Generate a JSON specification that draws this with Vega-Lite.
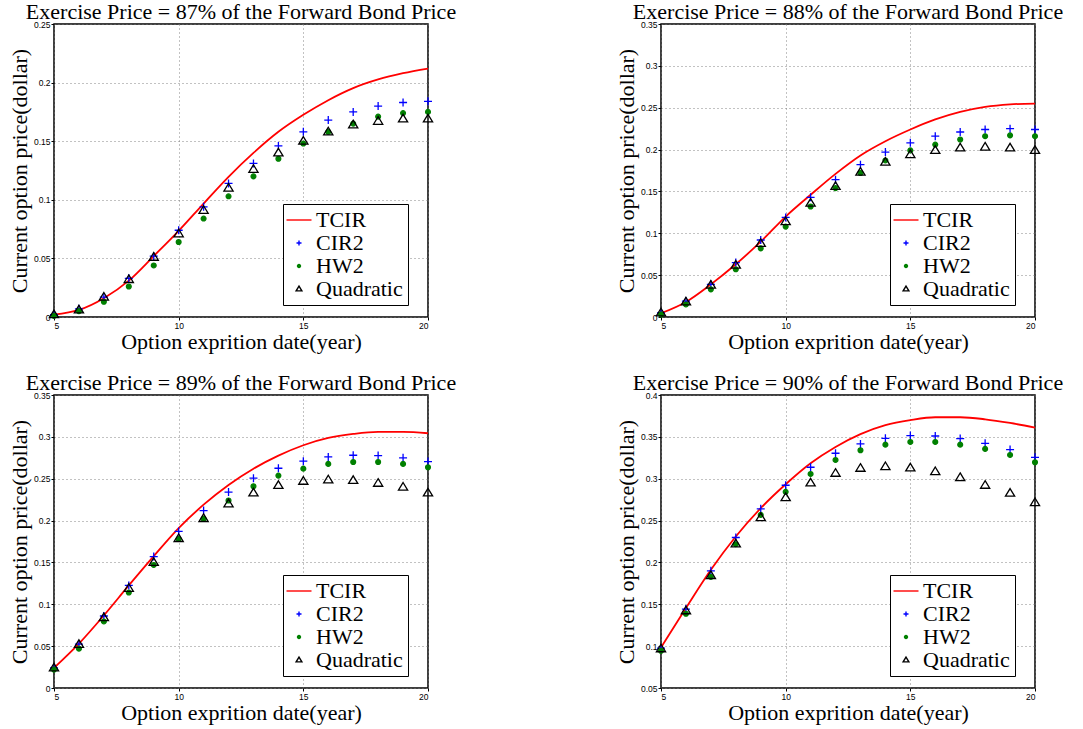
{
  "$schema": "https://vega.github.io/schema/vega-lite/v6.json",
  "padding": {"left": 7, "top": 0, "right": 0, "bottom": 0},
  "background": "white",
  "datasets": {
    "rows": [
      {"panel": "87", "year": 5, "TCIR": 0.002, "CIR2": 0.002, "HW2": 0.001, "Quadratic": 0.002},
      {"panel": "87", "year": 6, "TCIR": 0.006, "CIR2": 0.007, "HW2": 0.005, "Quadratic": 0.006},
      {"panel": "87", "year": 7, "TCIR": 0.016, "CIR2": 0.017, "HW2": 0.013, "Quadratic": 0.017},
      {"panel": "87", "year": 8, "TCIR": 0.031, "CIR2": 0.033, "HW2": 0.026, "Quadratic": 0.032},
      {"panel": "87", "year": 9, "TCIR": 0.052, "CIR2": 0.052, "HW2": 0.044, "Quadratic": 0.051},
      {"panel": "87", "year": 10, "TCIR": 0.0735, "CIR2": 0.074, "HW2": 0.064, "Quadratic": 0.071},
      {"panel": "87", "year": 11, "TCIR": 0.0968, "CIR2": 0.094, "HW2": 0.084, "Quadratic": 0.091},
      {"panel": "87", "year": 12, "TCIR": 0.1196, "CIR2": 0.114, "HW2": 0.103, "Quadratic": 0.110},
      {"panel": "87", "year": 13, "TCIR": 0.140, "CIR2": 0.131, "HW2": 0.120, "Quadratic": 0.126},
      {"panel": "87", "year": 14, "TCIR": 0.158, "CIR2": 0.146, "HW2": 0.135, "Quadratic": 0.140},
      {"panel": "87", "year": 15, "TCIR": 0.1725, "CIR2": 0.158, "HW2": 0.148, "Quadratic": 0.150},
      {"panel": "87", "year": 16, "TCIR": 0.185, "CIR2": 0.168, "HW2": 0.158, "Quadratic": 0.158},
      {"panel": "87", "year": 17, "TCIR": 0.1953, "CIR2": 0.175, "HW2": 0.165, "Quadratic": 0.164},
      {"panel": "87", "year": 18, "TCIR": 0.2027, "CIR2": 0.180, "HW2": 0.171, "Quadratic": 0.167},
      {"panel": "87", "year": 19, "TCIR": 0.208, "CIR2": 0.183, "HW2": 0.174, "Quadratic": 0.169},
      {"panel": "87", "year": 20, "TCIR": 0.212, "CIR2": 0.184, "HW2": 0.175, "Quadratic": 0.169},

      {"panel": "88", "year": 5, "TCIR": 0.0045, "CIR2": 0.005, "HW2": 0.003, "Quadratic": 0.005},
      {"panel": "88", "year": 6, "TCIR": 0.018, "CIR2": 0.019, "HW2": 0.015, "Quadratic": 0.018},
      {"panel": "88", "year": 7, "TCIR": 0.039, "CIR2": 0.039, "HW2": 0.033, "Quadratic": 0.038},
      {"panel": "88", "year": 8, "TCIR": 0.063, "CIR2": 0.065, "HW2": 0.057, "Quadratic": 0.062},
      {"panel": "88", "year": 9, "TCIR": 0.090, "CIR2": 0.092, "HW2": 0.082, "Quadratic": 0.088},
      {"panel": "88", "year": 10, "TCIR": 0.120, "CIR2": 0.119, "HW2": 0.108, "Quadratic": 0.114},
      {"panel": "88", "year": 11, "TCIR": 0.146, "CIR2": 0.143, "HW2": 0.132, "Quadratic": 0.136},
      {"panel": "88", "year": 12, "TCIR": 0.171, "CIR2": 0.164, "HW2": 0.154, "Quadratic": 0.156},
      {"panel": "88", "year": 13, "TCIR": 0.193, "CIR2": 0.182, "HW2": 0.172, "Quadratic": 0.173},
      {"panel": "88", "year": 14, "TCIR": 0.210, "CIR2": 0.197, "HW2": 0.187, "Quadratic": 0.185},
      {"panel": "88", "year": 15, "TCIR": 0.224, "CIR2": 0.208, "HW2": 0.199, "Quadratic": 0.194},
      {"panel": "88", "year": 16, "TCIR": 0.236, "CIR2": 0.216, "HW2": 0.206, "Quadratic": 0.199},
      {"panel": "88", "year": 17, "TCIR": 0.245, "CIR2": 0.221, "HW2": 0.212, "Quadratic": 0.202},
      {"panel": "88", "year": 18, "TCIR": 0.251, "CIR2": 0.224, "HW2": 0.216, "Quadratic": 0.203},
      {"panel": "88", "year": 19, "TCIR": 0.254, "CIR2": 0.225, "HW2": 0.217, "Quadratic": 0.202},
      {"panel": "88", "year": 20, "TCIR": 0.255, "CIR2": 0.224, "HW2": 0.216, "Quadratic": 0.199},

      {"panel": "89", "year": 5, "TCIR": 0.024, "CIR2": 0.024, "HW2": 0.022, "Quadratic": 0.024},
      {"panel": "89", "year": 6, "TCIR": 0.053, "CIR2": 0.0525, "HW2": 0.047, "Quadratic": 0.052},
      {"panel": "89", "year": 7, "TCIR": 0.0867, "CIR2": 0.086, "HW2": 0.0795, "Quadratic": 0.084},
      {"panel": "89", "year": 8, "TCIR": 0.1225, "CIR2": 0.1225, "HW2": 0.114, "Quadratic": 0.119},
      {"panel": "89", "year": 9, "TCIR": 0.1575, "CIR2": 0.157, "HW2": 0.147, "Quadratic": 0.150},
      {"panel": "89", "year": 10, "TCIR": 0.191, "CIR2": 0.187, "HW2": 0.178, "Quadratic": 0.1786},
      {"panel": "89", "year": 11, "TCIR": 0.219, "CIR2": 0.212, "HW2": 0.202, "Quadratic": 0.2025},
      {"panel": "89", "year": 12, "TCIR": 0.2426, "CIR2": 0.234, "HW2": 0.224, "Quadratic": 0.220},
      {"panel": "89", "year": 13, "TCIR": 0.262, "CIR2": 0.2506, "HW2": 0.241, "Quadratic": 0.233},
      {"panel": "89", "year": 14, "TCIR": 0.2776, "CIR2": 0.2625, "HW2": 0.2537, "Quadratic": 0.242},
      {"panel": "89", "year": 15, "TCIR": 0.290, "CIR2": 0.271, "HW2": 0.262, "Quadratic": 0.247},
      {"panel": "89", "year": 16, "TCIR": 0.2987, "CIR2": 0.276, "HW2": 0.2677, "Quadratic": 0.2486},
      {"panel": "89", "year": 17, "TCIR": 0.3035, "CIR2": 0.278, "HW2": 0.270, "Quadratic": 0.248},
      {"panel": "89", "year": 18, "TCIR": 0.306, "CIR2": 0.2776, "HW2": 0.270, "Quadratic": 0.2446},
      {"panel": "89", "year": 19, "TCIR": 0.306, "CIR2": 0.275, "HW2": 0.2677, "Quadratic": 0.240},
      {"panel": "89", "year": 20, "TCIR": 0.3043, "CIR2": 0.2705, "HW2": 0.2637, "Quadratic": 0.233},

      {"panel": "90", "year": 5, "TCIR": 0.0985, "CIR2": 0.0977, "HW2": 0.0945, "Quadratic": 0.0969},
      {"panel": "90", "year": 6, "TCIR": 0.1455, "CIR2": 0.1443, "HW2": 0.1387, "Quadratic": 0.1423},
      {"panel": "90", "year": 7, "TCIR": 0.1912, "CIR2": 0.190, "HW2": 0.1828, "Quadratic": 0.1844},
      {"panel": "90", "year": 8, "TCIR": 0.231, "CIR2": 0.2298, "HW2": 0.2218, "Quadratic": 0.2222},
      {"panel": "90", "year": 9, "TCIR": 0.2648, "CIR2": 0.264, "HW2": 0.2568, "Quadratic": 0.2536},
      {"panel": "90", "year": 10, "TCIR": 0.2934, "CIR2": 0.2922, "HW2": 0.2843, "Quadratic": 0.2775},
      {"panel": "90", "year": 11, "TCIR": 0.3185, "CIR2": 0.3137, "HW2": 0.3057, "Quadratic": 0.295},
      {"panel": "90", "year": 12, "TCIR": 0.338, "CIR2": 0.3304, "HW2": 0.3224, "Quadratic": 0.3065},
      {"panel": "90", "year": 13, "TCIR": 0.3533, "CIR2": 0.3415, "HW2": 0.334, "Quadratic": 0.3125},
      {"panel": "90", "year": 14, "TCIR": 0.364, "CIR2": 0.3483, "HW2": 0.3407, "Quadratic": 0.3145},
      {"panel": "90", "year": 15, "TCIR": 0.370, "CIR2": 0.3515, "HW2": 0.3439, "Quadratic": 0.3129},
      {"panel": "90", "year": 16, "TCIR": 0.3734, "CIR2": 0.351, "HW2": 0.3439, "Quadratic": 0.3085},
      {"panel": "90", "year": 17, "TCIR": 0.3734, "CIR2": 0.348, "HW2": 0.3407, "Quadratic": 0.3014},
      {"panel": "90", "year": 18, "TCIR": 0.371, "CIR2": 0.3423, "HW2": 0.3356, "Quadratic": 0.2922},
      {"panel": "90", "year": 19, "TCIR": 0.3666, "CIR2": 0.3348, "HW2": 0.3284, "Quadratic": 0.2827},
      {"panel": "90", "year": 20, "TCIR": 0.361, "CIR2": 0.3256, "HW2": 0.3197, "Quadratic": 0.2715}
    ]
  },
  "data": {"name": "rows"},
  "columns": 2,
  "spacing": {"column": 157, "row": 17},
  "concat": [
    {
      "width": 374, "height": 293,
      "title": "Exercise Price = 87% of the Forward Bond Price",
      "transform": [
        {"filter": "datum.panel === '87'"},
        {"fold": ["TCIR", "CIR2", "HW2", "Quadratic"], "as": ["series", "price"]}
      ],
      "encoding": {
        "x": {"field": "year", "type": "quantitative", "scale": {"domain": [5, 20], "nice": false}, "axis": {"values": [5, 10, 15, 20], "title": "Option exprition date(year)"}},
        "y": {"field": "price", "type": "quantitative", "scale": {"domain": [0, 0.25], "nice": false, "zero": false}, "axis": {"values": [0, 0.05, 0.1, 0.15, 0.2, 0.25], "format": ".2~f", "title": "Current option price(dollar)"}},
        "stroke": {"field": "series", "type": "nominal", "scale": {"domain": ["TCIR", "CIR2", "HW2", "Quadratic"], "range": ["#ff0000", "#0000ff", "#008000", "#000000"]}, "legend": {"title": null}}
      },
      "layer": [
        {"transform": [{"filter": "datum.series === 'TCIR'"}], "mark": {"type": "line", "interpolate": "monotone", "strokeWidth": 1.8}},
        {
          "transform": [{"filter": "datum.series !== 'TCIR'"}],
          "mark": {"type": "point", "size": 64, "strokeWidth": 1.3, "opacity": 1},
          "encoding": {
            "fill": {"field": "series", "type": "nominal", "scale": {"domain": ["TCIR", "CIR2", "HW2", "Quadratic"], "range": ["transparent", "transparent", "#008000", "transparent"]}, "legend": {"title": null}},
            "shape": {"field": "series", "type": "nominal", "scale": {"domain": ["TCIR", "CIR2", "HW2", "Quadratic"], "range": ["M-5,0H5", "M-1,0H1M0,-1V1", "M0.6,0A0.6,0.6 0 1,1 -0.6,0A0.6,0.6 0 1,1 0.6,0Z", "M0,-1.15L1.15,0.75L-1.15,0.75Z"]}, "legend": {"title": null}}
          }
        }
      ]
    },
    {
      "width": 374, "height": 293,
      "title": "Exercise Price = 88% of the Forward Bond Price",
      "transform": [
        {"filter": "datum.panel === '88'"},
        {"fold": ["TCIR", "CIR2", "HW2", "Quadratic"], "as": ["series", "price"]}
      ],
      "encoding": {
        "x": {"field": "year", "type": "quantitative", "scale": {"domain": [5, 20], "nice": false}, "axis": {"values": [5, 10, 15, 20], "title": "Option exprition date(year)"}},
        "y": {"field": "price", "type": "quantitative", "scale": {"domain": [0, 0.35], "nice": false, "zero": false}, "axis": {"values": [0, 0.05, 0.1, 0.15, 0.2, 0.25, 0.3, 0.35], "format": ".2~f", "title": "Current option price(dollar)"}},
        "stroke": {"field": "series", "type": "nominal", "scale": {"domain": ["TCIR", "CIR2", "HW2", "Quadratic"], "range": ["#ff0000", "#0000ff", "#008000", "#000000"]}, "legend": {"title": null}}
      },
      "layer": [
        {"transform": [{"filter": "datum.series === 'TCIR'"}], "mark": {"type": "line", "interpolate": "monotone", "strokeWidth": 1.8}},
        {
          "transform": [{"filter": "datum.series !== 'TCIR'"}],
          "mark": {"type": "point", "size": 64, "strokeWidth": 1.3, "opacity": 1},
          "encoding": {
            "fill": {"field": "series", "type": "nominal", "scale": {"domain": ["TCIR", "CIR2", "HW2", "Quadratic"], "range": ["transparent", "transparent", "#008000", "transparent"]}, "legend": {"title": null}},
            "shape": {"field": "series", "type": "nominal", "scale": {"domain": ["TCIR", "CIR2", "HW2", "Quadratic"], "range": ["M-5,0H5", "M-1,0H1M0,-1V1", "M0.6,0A0.6,0.6 0 1,1 -0.6,0A0.6,0.6 0 1,1 0.6,0Z", "M0,-1.15L1.15,0.75L-1.15,0.75Z"]}, "legend": {"title": null}}
          }
        }
      ]
    },
    {
      "width": 374, "height": 293,
      "title": "Exercise Price = 89% of the Forward Bond Price",
      "transform": [
        {"filter": "datum.panel === '89'"},
        {"fold": ["TCIR", "CIR2", "HW2", "Quadratic"], "as": ["series", "price"]}
      ],
      "encoding": {
        "x": {"field": "year", "type": "quantitative", "scale": {"domain": [5, 20], "nice": false}, "axis": {"values": [5, 10, 15, 20], "title": "Option exprition date(year)"}},
        "y": {"field": "price", "type": "quantitative", "scale": {"domain": [0, 0.35], "nice": false, "zero": false}, "axis": {"values": [0, 0.05, 0.1, 0.15, 0.2, 0.25, 0.3, 0.35], "format": ".2~f", "title": "Current option price(dollar)"}},
        "stroke": {"field": "series", "type": "nominal", "scale": {"domain": ["TCIR", "CIR2", "HW2", "Quadratic"], "range": ["#ff0000", "#0000ff", "#008000", "#000000"]}, "legend": {"title": null}}
      },
      "layer": [
        {"transform": [{"filter": "datum.series === 'TCIR'"}], "mark": {"type": "line", "interpolate": "monotone", "strokeWidth": 1.8}},
        {
          "transform": [{"filter": "datum.series !== 'TCIR'"}],
          "mark": {"type": "point", "size": 64, "strokeWidth": 1.3, "opacity": 1},
          "encoding": {
            "fill": {"field": "series", "type": "nominal", "scale": {"domain": ["TCIR", "CIR2", "HW2", "Quadratic"], "range": ["transparent", "transparent", "#008000", "transparent"]}, "legend": {"title": null}},
            "shape": {"field": "series", "type": "nominal", "scale": {"domain": ["TCIR", "CIR2", "HW2", "Quadratic"], "range": ["M-5,0H5", "M-1,0H1M0,-1V1", "M0.6,0A0.6,0.6 0 1,1 -0.6,0A0.6,0.6 0 1,1 0.6,0Z", "M0,-1.15L1.15,0.75L-1.15,0.75Z"]}, "legend": {"title": null}}
          }
        }
      ]
    },
    {
      "width": 374, "height": 293,
      "title": "Exercise Price = 90% of the Forward Bond Price",
      "transform": [
        {"filter": "datum.panel === '90'"},
        {"fold": ["TCIR", "CIR2", "HW2", "Quadratic"], "as": ["series", "price"]}
      ],
      "encoding": {
        "x": {"field": "year", "type": "quantitative", "scale": {"domain": [5, 20], "nice": false}, "axis": {"values": [5, 10, 15, 20], "title": "Option exprition date(year)"}},
        "y": {"field": "price", "type": "quantitative", "scale": {"domain": [0.05, 0.4], "nice": false, "zero": false}, "axis": {"values": [0.05, 0.1, 0.15, 0.2, 0.25, 0.3, 0.35, 0.4], "format": ".2~f", "title": "Current option price(dollar)"}},
        "stroke": {"field": "series", "type": "nominal", "scale": {"domain": ["TCIR", "CIR2", "HW2", "Quadratic"], "range": ["#ff0000", "#0000ff", "#008000", "#000000"]}, "legend": {"title": null}}
      },
      "layer": [
        {"transform": [{"filter": "datum.series === 'TCIR'"}], "mark": {"type": "line", "interpolate": "monotone", "strokeWidth": 1.8}},
        {
          "transform": [{"filter": "datum.series !== 'TCIR'"}],
          "mark": {"type": "point", "size": 64, "strokeWidth": 1.3, "opacity": 1},
          "encoding": {
            "fill": {"field": "series", "type": "nominal", "scale": {"domain": ["TCIR", "CIR2", "HW2", "Quadratic"], "range": ["transparent", "transparent", "#008000", "transparent"]}, "legend": {"title": null}},
            "shape": {"field": "series", "type": "nominal", "scale": {"domain": ["TCIR", "CIR2", "HW2", "Quadratic"], "range": ["M-5,0H5", "M-1,0H1M0,-1V1", "M0.6,0A0.6,0.6 0 1,1 -0.6,0A0.6,0.6 0 1,1 0.6,0Z", "M0,-1.15L1.15,0.75L-1.15,0.75Z"]}, "legend": {"title": null}}
          }
        }
      ]
    }
  ],
  "resolve": {
    "scale": {"x": "independent", "y": "independent", "stroke": "independent", "fill": "independent", "shape": "independent"},
    "legend": {"stroke": "independent", "fill": "independent", "shape": "independent"},
    "axis": {"x": "independent", "y": "independent"}
  },
  "config": {
    "view": {"stroke": "black", "strokeWidth": 1.5},
    "axis": {
      "domain": false,
      "grid": true,
      "gridDash": [1, 3],
      "gridColor": "#777777",
      "gridWidth": 0.9,
      "ticks": true,
      "tickSize": 3,
      "tickColor": "black",
      "labelFont": "Liberation Sans",
      "labelFontSize": 8.5,
      "labelColor": "black",
      "labelPadding": 1,
      "titleFont": "Liberation Serif",
      "titleFontSize": 22,
      "titleFontWeight": "normal",
      "titleColor": "black",
      "titlePadding": 2
    },
    "title": {"font": "Liberation Serif", "fontSize": 22, "fontWeight": "normal", "color": "black", "frame": "group", "anchor": "middle", "offset": -4},
    "legend": {
      "orient": "none",
      "legendX": 229,
      "legendY": 180,
      "padding": 5,
      "strokeColor": "black",
      "fillColor": "white",
      "cornerRadius": 0,
      "labelFont": "Liberation Serif",
      "labelFontSize": 22,
      "labelColor": "black",
      "labelOffset": 6,
      "symbolSize": 25,
      "symbolOffset": 0,
      "symbolStrokeWidth": 1.4,
      "rowPadding": 1
    }
  }
}
